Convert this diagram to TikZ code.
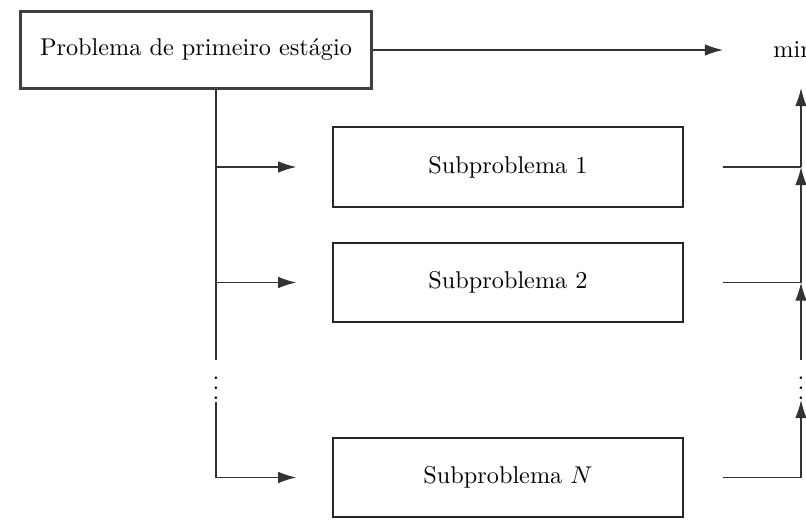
\documentclass[tikz,border=0pt]{standalone}
\usetikzlibrary{arrows.meta}
\begin{document}
\begin{tikzpicture}[x=0.0145cm,y=-0.0145cm,
  firstbox/.style={draw=black!75, line width=1.2pt, minimum width=5.1cm, minimum height=1.12cm, inner sep=0pt},
  subbox/.style={draw=black!85, line width=0.8pt, minimum width=5.07cm, minimum height=1.15cm, inner sep=0pt},
  conn/.style={line width=0.6pt, draw=black!80},
  arr/.style={conn, -{Latex[length=7.5pt,width=4.8pt]}}]
\useasboundingbox (0,0) rectangle (806,520);
\clip (0,0) rectangle (806,520);
\node[firstbox] (p) at (196,50) {Problema de primeiro estágio};
\node[subbox] (s1) at (508,167) {Subproblema 1};
\node[subbox] (s2) at (508,282.5) {Subproblema 2};
\node[subbox] (sN) at (508,477.5) {Subproblema $N$};
\node[anchor=west, inner sep=0pt] (min) at (773,50) {min};
% top arrow
\coordinate (ta) at (723,50);
\draw[arr] (p.east) -- (ta);
% left trunk
\coordinate (st) at (216,89);
\coordinate (d1) at (216,360);
\coordinate (d2) at (216,402);
\node[inner sep=0pt] (ldots) at (216,381) {$\vdots$};
\draw[conn] (st) -- (d1);
\draw[conn] (d2) -- (st |- sN);
\draw[arr] (st |- s1) -- ([xshift=-0.52cm]s1.west);
\draw[arr] (st |- s2) -- ([xshift=-0.52cm]s2.west);
\draw[arr] (st |- sN) -- ([xshift=-0.52cm]sN.west);
% right side
\coordinate (rt) at (801,88);
\coordinate (r1) at ([xshift=0.565cm]s1.east);
\coordinate (r2) at ([xshift=0.565cm]s2.east);
\coordinate (rN) at ([xshift=0.565cm]sN.east);
\coordinate (e1) at (801,360);
\coordinate (e2) at (801,400);
\node[inner sep=0pt] (rdots) at (801,381) {$\vdots$};
\draw[conn] (r1) -- (r1 -| rt);
\draw[conn] (r2) -- (r2 -| rt);
\draw[conn] (rN) -- (rN -| rt);
\draw[arr] (rN -| rt) -- (e2);
\draw[arr] (e1) -- (r2 -| rt);
\draw[arr] (r2 -| rt) -- (r1 -| rt);
\draw[arr] (r1 -| rt) -- (rt);
\end{tikzpicture}
\end{document}
